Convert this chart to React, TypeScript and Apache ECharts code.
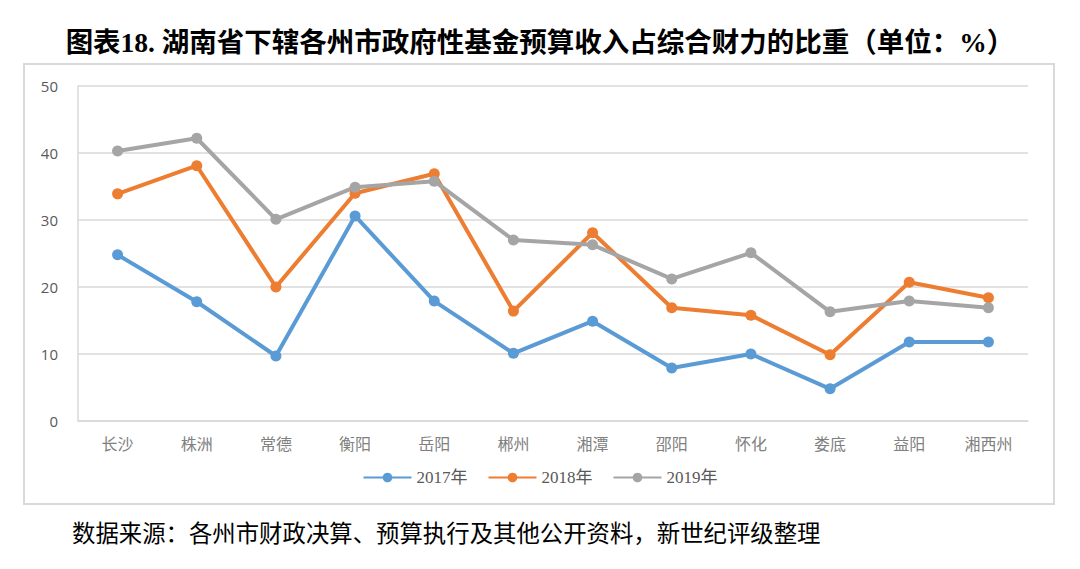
import React, { useEffect, useRef } from "react";
import * as echarts from "echarts";

const categories = ["长沙", "株洲", "常德", "衡阳", "岳阳", "郴州", "湘潭", "邵阳", "怀化", "娄底", "益阳", "湘西州"];
const seriesNames = ["2017年", "2018年", "2019年"];
const values2017 = [24.8, 17.8, 9.7, 30.6, 17.9, 10.1, 14.9, 7.9, 10.0, 4.8, 11.8, 11.8];
const values2018 = [33.9, 38.1, 20.0, 34.0, 36.9, 16.4, 28.1, 16.9, 15.8, 9.9, 20.7, 18.4];
const values2019 = [40.3, 42.2, 30.1, 34.9, 35.8, 27.0, 26.3, 21.2, 25.1, 16.3, 17.9, 16.9];
const colors = ["#5B9BD5", "#ED7D31", "#A5A5A5"];
const titleText = "图表18. 湖南省下辖各州市政府性基金预算收入占综合财力的比重（单位：%）";
const sourceText = "数据来源：各州市财政决算、预算执行及其他公开资料，新世纪评级整理";

export default function App() {
  const ref = useRef<HTMLDivElement>(null);
  useEffect(() => {
    if (!ref.current) return;
    const chart = echarts.init(ref.current, undefined, { renderer: "svg" });
    const allValues = [values2017, values2018, values2019];
    chart.setOption({
      animation: false,
      backgroundColor: "#ffffff",
      graphic: [
        {
          type: "rect",
          shape: { x: 24, y: 64, width: 1030, height: 440 },
          style: { fill: "none", stroke: "#d9d9d9", lineWidth: 2 },
          z: -1,
        },
        {
          type: "text",
          x: 540,
          y: 42,
          style: {
            text: titleText,
            fontSize: 27.5,
            fontWeight: "bold",
            fontFamily: "Liberation Serif, Noto Sans CJK SC",
            fill: "#000",
            align: "center",
            verticalAlign: "middle",
          },
        },
        {
          type: "text",
          x: 72,
          y: 532,
          style: {
            text: sourceText,
            fontSize: 23.4,
            fontFamily: "Noto Sans CJK SC",
            fill: "#000",
            align: "left",
            verticalAlign: "middle",
          },
        },
      ],
      legend: {
        top: 464,
        left: "center",
        itemWidth: 48,
        itemHeight: 12,
        itemGap: 20,
        textStyle: { color: "#595959", fontSize: 17, fontFamily: "Liberation Serif, Noto Sans CJK SC" },
        data: seriesNames,
      },
      grid: { left: 78, right: 52, top: 86, bottom: 148 },
      xAxis: {
        type: "category",
        data: categories,
        boundaryGap: true,
        axisLine: { show: true, lineStyle: { color: "#d9d9d9", width: 1.5 } },
        axisTick: { show: false },
        axisLabel: { color: "#808080", fontSize: 16, margin: 14, fontFamily: "Noto Sans CJK SC" },
      },
      yAxis: {
        type: "value",
        min: 0,
        max: 50,
        interval: 10,
        axisLine: { show: true, lineStyle: { color: "#d9d9d9", width: 1.5 } },
        axisTick: { show: false },
        splitLine: { lineStyle: { color: "#d9d9d9", width: 1.5 } },
        axisLabel: { color: "#595959", fontSize: 15, margin: 20, fontFamily: "Open Sans" },
      },
      series: seriesNames.map((name, i) => ({
        name,
        type: "line",
        data: allValues[i],
        symbol: "circle",
        symbolSize: 11,
        lineStyle: { width: 4, color: colors[i] },
        itemStyle: { color: colors[i] },
      })),
    });
    return () => chart.dispose();
  }, []);
  return <div ref={ref} style={{ position: "fixed", left: 0, top: 0, width: 1080, height: 569 }} />;
}
